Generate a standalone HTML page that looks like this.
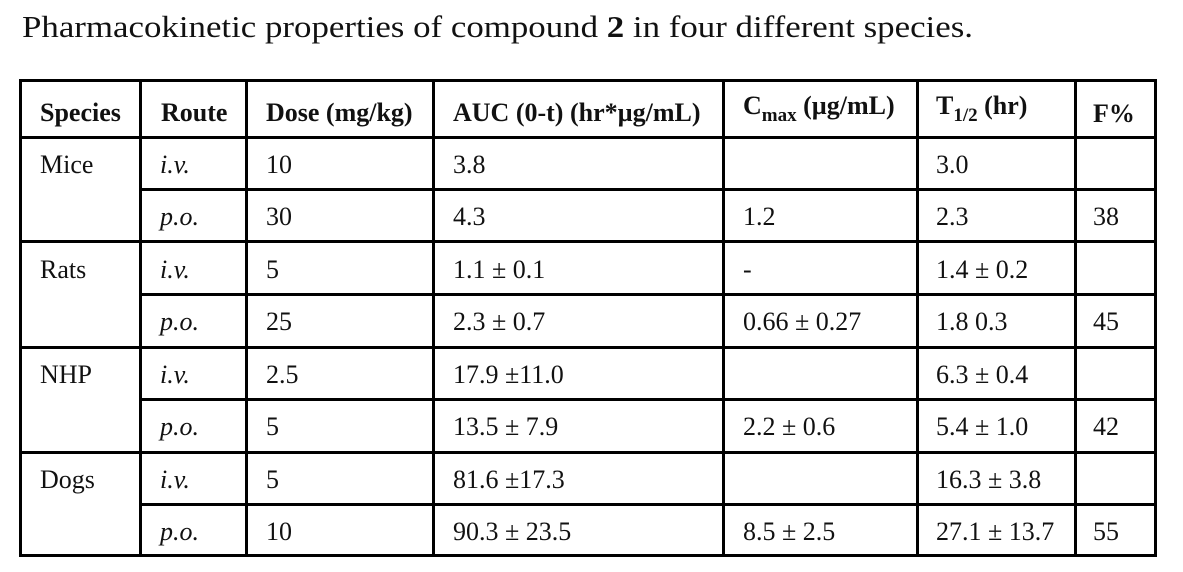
<!DOCTYPE html>
<html><head><meta charset="utf-8"><style>
html,body{margin:0;padding:0;background:#fff;}
svg{display:block;}
text{font-family:"Liberation Serif","Times New Roman",serif;font-size:26px;fill:#111;}
.b{font-weight:bold;}
.i{font-style:italic;}
</style></head><body>
<svg width="1183" height="572" viewBox="0 0 1183 572" xmlns="http://www.w3.org/2000/svg">
<text x="22" y="37" style="font-size:31px" textLength="951" lengthAdjust="spacingAndGlyphs">Pharmacokinetic properties of compound <tspan class="b">2</tspan> in four different species.</text>
<g fill="#000">
<rect x="19" y="79" width="1138" height="3"/>
<rect x="19" y="554" width="1138" height="3"/>
<rect x="19" y="79" width="3" height="478"/>
<rect x="1154" y="79" width="3" height="478"/>
<rect x="139" y="79" width="3" height="478"/>
<rect x="245" y="79" width="3" height="478"/>
<rect x="432" y="79" width="3" height="478"/>
<rect x="722" y="79" width="3" height="478"/>
<rect x="916" y="79" width="3" height="478"/>
<rect x="1074" y="79" width="3" height="478"/>
<rect x="19" y="136" width="1138" height="3"/>
<rect x="139" y="188" width="1018" height="3"/>
<rect x="19" y="240" width="1138" height="3"/>
<rect x="139" y="293" width="1018" height="3"/>
<rect x="19" y="346" width="1138" height="3"/>
<rect x="139" y="398" width="1018" height="3"/>
<rect x="19" y="451" width="1138" height="3"/>
<rect x="139" y="503" width="1018" height="3"/>
</g>
<g>
<text class="b" x="40" y="121">Species</text>
<text class="b" x="161" y="121">Route</text>
<text class="b" x="266" y="121">Dose (mg/kg)</text>
<text class="b" x="453" y="121">AUC (0-t) (hr*µg/mL)</text>
<text class="b" x="743" y="114">C<tspan style="font-size:19px" dy="7">max</tspan><tspan dy="-7"> (µg/mL)</tspan></text>
<text class="b" x="936" y="114">T<tspan style="font-size:19px" dy="7">1/2</tspan><tspan dy="-7"> (hr)</tspan></text>
<text class="b" x="1093" y="122">F%</text>
</g>
<text x="40" y="173">Mice</text>
<text x="40" y="278">Rats</text>
<text x="40" y="383">NHP</text>
<text x="40" y="488">Dogs</text>
<g>
<text class="i" x="160" y="173">i.v.</text><text x="266" y="173">10</text><text x="453" y="173">3.8</text><text x="936" y="173">3.0</text>
<text class="i" x="160" y="225">p.o.</text><text x="266" y="225">30</text><text x="453" y="225">4.3</text><text x="743" y="225">1.2</text><text x="936" y="225">2.3</text><text x="1093" y="225">38</text>
<text class="i" x="160" y="278">i.v.</text><text x="266" y="278">5</text><text x="453" y="278">1.1 ± 0.1</text><text x="743" y="278">-</text><text x="936" y="278">1.4 ± 0.2</text>
<text class="i" x="160" y="330">p.o.</text><text x="266" y="330">25</text><text x="453" y="330">2.3 ± 0.7</text><text x="743" y="330">0.66 ± 0.27</text><text x="936" y="330">1.8 0.3</text><text x="1093" y="330">45</text>
<text class="i" x="160" y="383">i.v.</text><text x="266" y="383">2.5</text><text x="453" y="383">17.9 ±11.0</text><text x="936" y="383">6.3 ± 0.4</text>
<text class="i" x="160" y="435">p.o.</text><text x="266" y="435">5</text><text x="453" y="435">13.5 ± 7.9</text><text x="743" y="435">2.2 ± 0.6</text><text x="936" y="435">5.4 ± 1.0</text><text x="1093" y="435">42</text>
<text class="i" x="160" y="488">i.v.</text><text x="266" y="488">5</text><text x="453" y="488">81.6 ±17.3</text><text x="936" y="488">16.3 ± 3.8</text>
<text class="i" x="160" y="540">p.o.</text><text x="266" y="540">10</text><text x="453" y="540">90.3 ± 23.5</text><text x="743" y="540">8.5 ± 2.5</text><text x="936" y="540">27.1 ± 13.7</text><text x="1093" y="540">55</text>
</g>
</svg>
</body></html>
